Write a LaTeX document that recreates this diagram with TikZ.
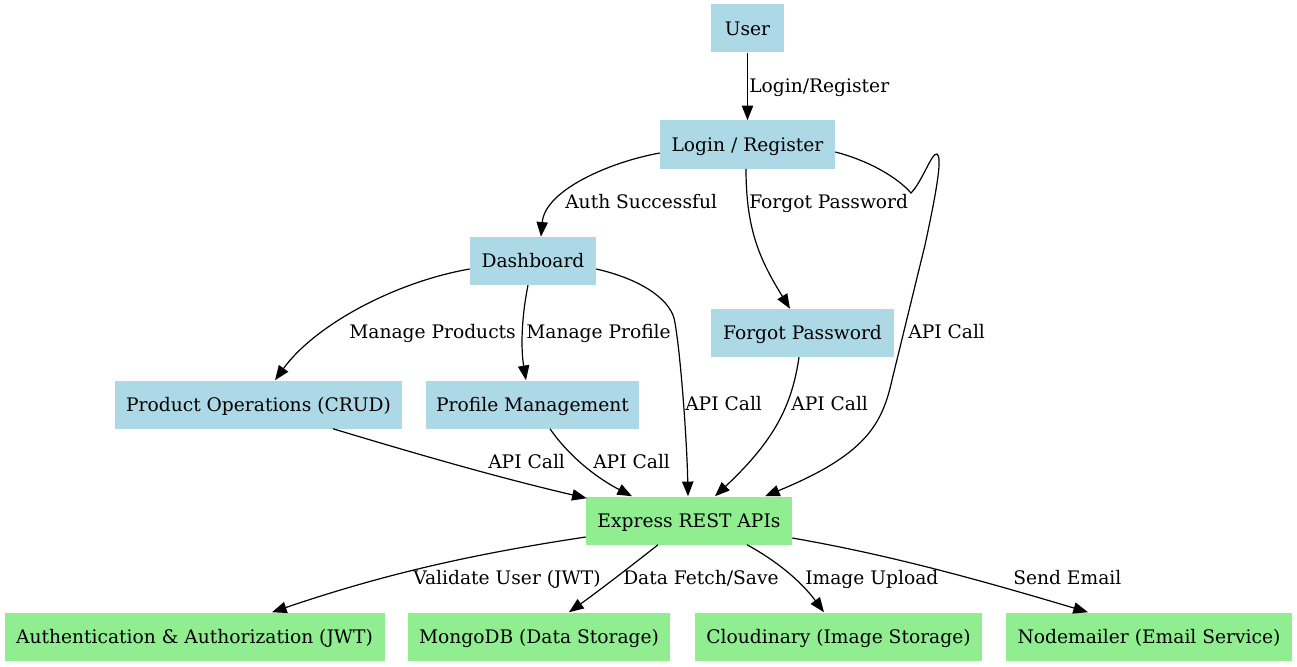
\documentclass[tikz,border=0pt]{standalone}
\usepackage{fontspec}
\setmainfont{DejaVu Serif}
\usetikzlibrary{arrows.meta,calc}
\definecolor{lblue}{HTML}{ADD8E6}
\definecolor{lgreen}{HTML}{90EE90}
\begin{document}
\begin{tikzpicture}[x=0.75pt,y=-0.75pt,
  box/.style={draw=none, inner sep=0pt, minimum height=36pt, text height=12.8pt, text depth=3pt, font=\fontsize{14pt}{16pt}\selectfont},
  bluebox/.style={box, fill=lblue},
  greenbox/.style={box, fill=lgreen},
  bw/.style={minimum width=#1*0.75pt},
  lab/.style={anchor=base west, inner sep=0pt, font=\fontsize{14pt}{16pt}\selectfont},
  conn/.style={line width=0.9pt, -{Triangle[length=11pt,width=8.5pt]}}
]
\useasboundingbox (0,0) rectangle (1297,667);
\fill[white] (0,0) rectangle (1297,667);

\node[bluebox,bw=73] (user) at (747.5,28.5) {User};
\node[bluebox,bw=175] (login) at (747.5,144.5) {Login / Register};
\node[bluebox,bw=126] (dash) at (533,261) {Dashboard};
\node[bluebox,bw=183] (forgot) at (802.5,333) {Forgot Password};
\node[bluebox,bw=287] (prod) at (258.5,404.5) {Product Operations (CRUD)};
\node[bluebox,bw=213] (prof) at (532.5,404.5) {Profile Management};
\node[greenbox,bw=206] (api) at (689,520.5) {Express REST APIs};
\node[greenbox,bw=380] (auth) at (194.5,636.5) {Authentication \& Authorization (JWT)};
\node[greenbox,bw=262] (mongo) at (539,636.5) {MongoDB (Data Storage)};
\node[greenbox,bw=287] (cloud) at (838.5,636.5) {Cloudinary (Image Storage)};
\node[greenbox,bw=286] (mail) at (1149,636.5) {Nodemailer (Email Service)};

\draw[conn] (user.south) -- (login.north);
\draw[conn] ($(login.west)+(0,8.5)$) .. controls (610,162) and (545,190) .. ($(dash.north)+(8,0)$);
\draw[conn] ($(login.south)+(-1.5,0)$) .. controls (746,230) and (760,260) .. ($(forgot.north)+(-12.5,0)$);
\draw[conn] ($(login.east)+(0,7.5)$) .. controls (870,161) and (898,178) .. (911,193) .. controls (922,182) and (932,152) .. (937,154) .. controls (942,157) and (938,185) .. (925,245) -- (892,380) .. controls (882,425) and (865,455) .. ($(api.north)+(76,0)$);
\draw[conn] ($(dash.west)+(0,8)$) .. controls (395,282) and (315,325) .. ($(prod.north)+(16.5,0)$);
\draw[conn] ($(dash.south)+(-5,0)$) .. controls (521,320) and (521,350) .. ($(prof.north)+(-6.5,0)$);
\draw[conn] ($(dash.east)+(0,8)$) .. controls (640,279) and (668,298) .. (674,318) .. controls (680,345) and (687,440) .. ($(api.north)+(-1,0)$);
\draw[conn] ($(forgot.south)+(-3.5,0)$) .. controls (792,405) and (775,440) .. ($(api.north)+(26,0)$);
\draw[conn] ($(prof.south)+(17.5,0)$) .. controls (568,455) and (595,477) .. ($(api.north)+(-57,0)$);
\draw[conn] ($(prod.south)+(74.5,0)$) .. controls (420,455) and (500,478) .. ($(api.north west)+(1,2)$);
\draw[conn] ($(api.west)+(0,16.5)$) .. controls (480,553) and (390,572) .. ($(auth.north)+(77.5,0)$);
\draw[conn] ($(api.south)+(-31,0)$) .. controls (635,563) and (600,590) .. ($(mongo.north)+(30,0)$);
\draw[conn] ($(api.south)+(58,0)$) .. controls (775,560) and (800,580) .. ($(cloud.north)+(-14.5,0)$);
\draw[conn] ($(api.east)+(0,17.5)$) .. controls (890,555) and (980,580) .. ($(mail.north)+(-61,0)$);

\node[lab] (l1) at (749,92.5) {Login/Register};
\node[lab] (l2) at (565,208.5) {Auth Successful};
\node[lab] (l3) at (749,208.5) {Forgot Password};
\node[lab] (l4) at (349,338.5) {Manage Products};
\node[lab] (l5) at (526,338.5) {Manage Profile};
\node[lab] (l6) at (908,338.5) {API Call};
\node[lab] (l7) at (685,410.5) {API Call};
\node[lab] (l8) at (791,410.5) {API Call};
\node[lab] (l9) at (488,468.5) {API Call};
\node[lab] (l10) at (593,468.5) {API Call};
\node[lab] (l11) at (413,584.5) {Validate User (JWT)};
\node[lab] (l12) at (623,584.5) {Data Fetch/Save};
\node[lab] (l13) at (805,584.5) {Image Upload};
\node[lab] (l14) at (1013,584.5) {Send Email};
\end{tikzpicture}
\end{document}
